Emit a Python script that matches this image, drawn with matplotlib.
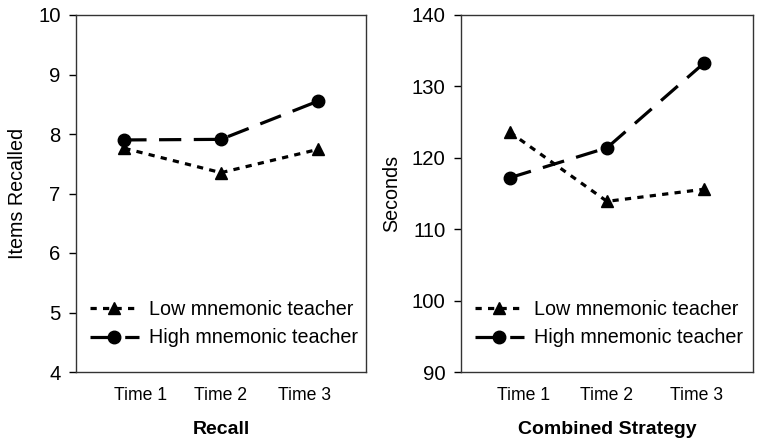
import matplotlib
matplotlib.use('Agg')
import matplotlib.pyplot as plt

plt.rcParams['font.family'] = ['Liberation Sans', 'DejaVu Sans']
plt.rcParams['lines.scale_dashes'] = False

# Data
times = ['Time 1', 'Time 2', 'Time 3']
recall_low = [7.76, 7.35, 7.74]
recall_high = [7.90, 7.91, 8.55]
combined_low = [123.6, 113.9, 115.6]
combined_high = [117.2, 121.4, 133.3]

fig = plt.figure(figsize=(7.62, 4.45), dpi=100)

# axes positions in figure fractions (from pixel layout)
W, H = 762, 445
ax1 = fig.add_axes([76 / W, 1 - 372 / H, 290 / W, 357 / H])
ax2 = fig.add_axes([461 / W, 1 - 372 / H, 292 / W, 357 / H])


def draw_panel(ax, low, high, ylim, yticks, ylabel, xlabel, label_pos):
    x = range(1, len(times) + 1)
    ax.plot(x, low, color='black', lw=2.3, dashes=(4.5, 4.5),
            marker='^', markersize=9, label='Low mnemonic teacher')
    ax.plot(x, high, color='black', lw=2.3, dashes=(16, 9),
            marker='o', markersize=9, label='High mnemonic teacher')
    ax.set_xlim(0.5, 3.5)
    ax.set_ylim(*ylim)
    ax.set_yticks(yticks)
    ax.set_xticks(label_pos)
    ax.set_xticklabels(times, fontsize=12.7)
    ax.tick_params(axis='x', length=0, pad=11)
    ax.tick_params(axis='y', length=5, width=1, labelsize=14.6, pad=6)
    for s in ax.spines.values():
        s.set_linewidth(1.0)
        s.set_color('#333333')
    ax.set_ylabel(ylabel, fontsize=14.2, labelpad=8)
    ax.set_xlabel(xlabel, fontsize=14, fontweight='bold', labelpad=12)
    ax.legend(loc='lower left', bbox_to_anchor=(0.0, 0.03), frameon=False,
              fontsize=14.2, handlelength=2.5, handletextpad=0.5,
              labelspacing=0.5, borderaxespad=0.3)


draw_panel(ax1, recall_low, recall_high, (4, 10), range(4, 11),
           'Items Recalled', 'Recall', [1.17, 2.0, 2.86])
draw_panel(ax2, combined_low, combined_high, (90, 140), range(90, 141, 10),
           'Seconds', 'Combined Strategy', [1.14, 2.0, 2.92])

fig.savefig('out.png', dpi=100)
